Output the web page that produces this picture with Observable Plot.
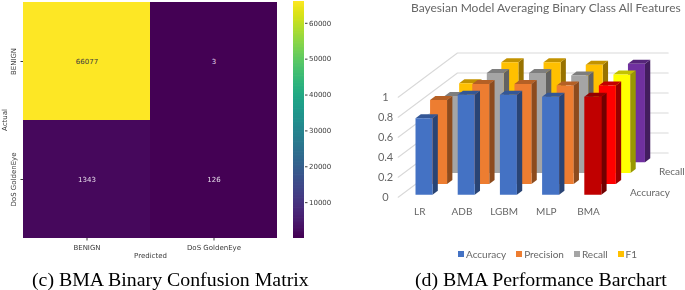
<!DOCTYPE html>
<html>
<head>
<meta charset="utf-8">
<script src="https://cdn.jsdelivr.net/npm/d3@7"></script>
<script src="https://cdn.jsdelivr.net/npm/@observablehq/plot@0.6"></script>
<style>
  html, body { margin: 0; padding: 0; background: #fff; }
  #root { position: relative; width: 685px; height: 290px; overflow: hidden; filter: blur(0.5px); }
  #root svg { position: absolute; top: 0; background: transparent; max-width: none; }
  .cap { position: absolute; top: 266px; font: 19.85px/26px "Liberation Serif", serif; color: #000; white-space: nowrap; text-align: center; }
  #title { position: absolute; top: 0; left: 411px; font: 12px/16px Lato, sans-serif; color: #666; white-space: nowrap; }
  #legend { position: absolute; top: 247px; left: 458px; font: 10px/14px Lato, sans-serif; color: #666; white-space: nowrap; display: flex; }
  #legend span.item { display: inline-flex; align-items: center; margin-right: 10px; }
  #legend i { display: inline-block; width: 6px; height: 6px; margin-right: 2px; }
</style>
</head>
<body>
<div id="root"></div>
<script>
// ---------- Confusion matrix data ----------
const classes = ["BENIGN", "DoS GoldenEye"];
const matrixValues = [[66077, 3], [1343, 126]];
const colorTicks = [10000, 20000, 30000, 40000, 50000, 60000];
const colorDomain = [3, 66077];

// ---------- Bar chart data ----------
const models = ["LR", "ADB", "LGBM", "MLP", "BMA"];
const metrics = ["Accuracy", "Precision", "Recall", "F1"];
const accuracy  = [0.765, 1.00, 1.00, 0.98, 0.98];
const precision = [0.84, 1.00, 1.00, 0.985, 0.985];
const recall    = [0.77, 1.00, 1.00, 0.975, 0.985];
const f1        = [0.79, 1.00, 1.00, 0.975, 0.985];
const metricValues = [accuracy, precision, recall, f1];
const metricColors = ["#4472C4", "#ED7D31", "#A5A5A5", "#FFC000"];
const bmaColors = ["#C00000", "#FF0000", "#FFFF00", "#7030A0"];
const valueTicks = [0, 0.2, 0.4, 0.6, 0.8, 1];
const depthLabels = [["Accuracy", 0], ["Recall", 2]];

const root = document.getElementById("root");
const font = '"DejaVu Sans", sans-serif';
const ink = "#3a3a3a";

// ---------- Heatmap ----------
const cells = classes.flatMap((a, i) => classes.map((p, j) => ({actual: a, predicted: p, v: matrixValues[i][j]})));
const colorScale = {type: "linear", scheme: "viridis", domain: colorDomain};
const heat = Plot.plot({
  width: 345, height: 262,
  marginLeft: 23, marginRight: 68, marginTop: 1, marginBottom: 24,
  style: {fontFamily: font, fontSize: "7px", color: ink},
  x: {domain: classes, padding: 0, label: null},
  y: {domain: classes, padding: 0, label: null},
  color: colorScale,
  marks: [
    Plot.cell(cells, {x: "predicted", y: "actual", fill: "v", inset: 0, shapeRendering: "crispEdges"}),
    Plot.text(cells.filter(d => d.v > 30000), {x: "predicted", y: "actual", text: d => String(d.v), fill: "#3b3b3b", fontSize: 7}),
    Plot.text(cells.filter(d => d.v <= 30000), {x: "predicted", y: "actual", text: d => String(d.v), fill: "#e6dcea", fontSize: 7}),
    Plot.axisX({tickSize: 2.5, tickPadding: 4, fontSize: 7, label: "Predicted", labelAnchor: "center", labelArrow: "none", labelOffset: 19, fill: ink}),
    Plot.axisY({tickSize: 2.5, tickPadding: 5, tickRotate: -90, fontSize: 7, label: "Actual", labelAnchor: "center", labelArrow: "none", labelOffset: 21, fill: ink})
  ]
});
heat.style.left = "0px";
root.append(heat);

// ---------- Colour bar ----------
const rampStep = 400;
const ramp = d3.range(colorDomain[0], colorDomain[1], rampStep);
const bar = Plot.plot({
  width: 345, height: 262,
  marginLeft: 293, marginRight: 41, marginTop: 1, marginBottom: 24,
  style: {fontFamily: font, fontSize: "7px", color: ink},
  x: {domain: [0, 1], axis: null},
  y: {domain: colorDomain, label: null},
  color: colorScale,
  marks: [
    Plot.rect(ramp, {x1: 0, x2: 1, y1: d => d, y2: d => Math.min(d + rampStep * 1.5, colorDomain[1]), fill: d => d, inset: 0}),
    Plot.axisY({anchor: "right", ticks: colorTicks, tickFormat: d3.format("d"), tickSize: 2.5, tickPadding: 2, fontSize: 7, label: null, fill: ink})
  ]
});
bar.style.left = "0px";
root.append(bar);

// ---------- Pseudo-3D bars ----------
// projection of (model index, metric depth, value) into the plot's two linear scales
const DX = 0.3448, DY = 0.1085;   // shift per depth row
const BW = 0.403;                  // bar width
const SX = 0.1256, SY = 0.04;      // bar's own depth
const U = (c, r) => c + DX * r;
const W = (r, v) => v + DY * r;
const shade = (col, k) => d3.rgb(col).darker(k).formatHex();

const faces = [];
let fid = 0;
function face(corners, color) {
  fid++;
  for (const [u, w] of corners) faces.push({u, w, id: fid, color});
}
for (let r = metrics.length - 1; r >= 0; r--) {
  for (let c = models.length - 1; c >= 0; c--) {
    const col = c === models.length - 1 ? bmaColors[r] : metricColors[r];
    const v = metricValues[r][c];
    const x0 = U(c, r), x1 = x0 + BW, y0 = W(r, 0), y1 = W(r, v);
    face([[x1, y0], [x1 + SX, y0 + SY], [x1 + SX, y1 + SY], [x1, y1]], shade(col, 1.45));
    face([[x0, y1], [x1, y1], [x1 + SX, y1 + SY], [x0 + SX, y1 + SY]], shade(col, 0.75));
    face([[x0, y0], [x1, y0], [x1, y1], [x0, y1]], col);
  }
}
const wallC = -0.334, wallR0 = -0.22, wallR1 = 3.85, wallC1 = 4.66;
const grid = valueTicks.flatMap((v, i) => [
  {u: U(wallC, wallR0), w: W(wallR0, v), i},
  {u: U(wallC, wallR1), w: W(wallR1, v), i},
  {u: U(wallC1, wallR1), w: W(wallR1, v), i}
]);

const chart3d = Plot.plot({
  width: 340, height: 240,
  margin: 0,
  style: {fontFamily: "Lato, sans-serif", fontSize: "10px", color: "#666"},
  x: {type: "linear", domain: [-1.659, 6.398], range: [0, 340], axis: null},
  y: {type: "linear", domain: [-0.457, 1.943], range: [240, 0], axis: null},
  marks: [
    Plot.line(grid, {x: "u", y: "w", z: "i", stroke: "#d9d9d9", strokeWidth: 1.1, curve: "linear"}),
    Plot.line(faces, {x: "u", y: "w", z: "id", fill: "color", stroke: "none", curve: "linear-closed"}),
    Plot.text(models, {x: (d, i) => i + 0.1, y: () => -0.174, text: d => d, fill: "#666", fontSize: 10}),
    Plot.text(valueTicks, {x: () => -0.71, y: d => d - 0.027, text: d => String(d), fill: "#666", fontSize: 11}),
    Plot.text(depthLabels, {x: d => U(5.08, d[1]), y: d => W(d[1], 0.016), text: d => d[0], textAnchor: "start", fill: "#666", fontSize: 10})
  ]
});
chart3d.style.left = "345px";
root.append(chart3d);

// ---------- Title, legend, captions ----------
const title = document.createElement("div");
title.id = "title";
title.textContent = "Bayesian Model Averaging Binary Class All Features";
root.append(title);

const legend = document.createElement("div");
legend.id = "legend";
metrics.forEach((m, i) => {
  const s = document.createElement("span");
  s.className = "item";
  const sw = document.createElement("i");
  sw.style.background = metricColors[i];
  s.append(sw, document.createTextNode(m));
  legend.append(s);
});
root.append(legend);

for (const [t, left] of [["(c) BMA Binary Confusion Matrix", 32], ["(d) BMA Performance Barchart", 415]]) {
  const c = document.createElement("div");
  c.className = "cap";
  c.style.left = left + "px";
  c.textContent = t;
  root.append(c);
}
</script>
</body>
</html>
